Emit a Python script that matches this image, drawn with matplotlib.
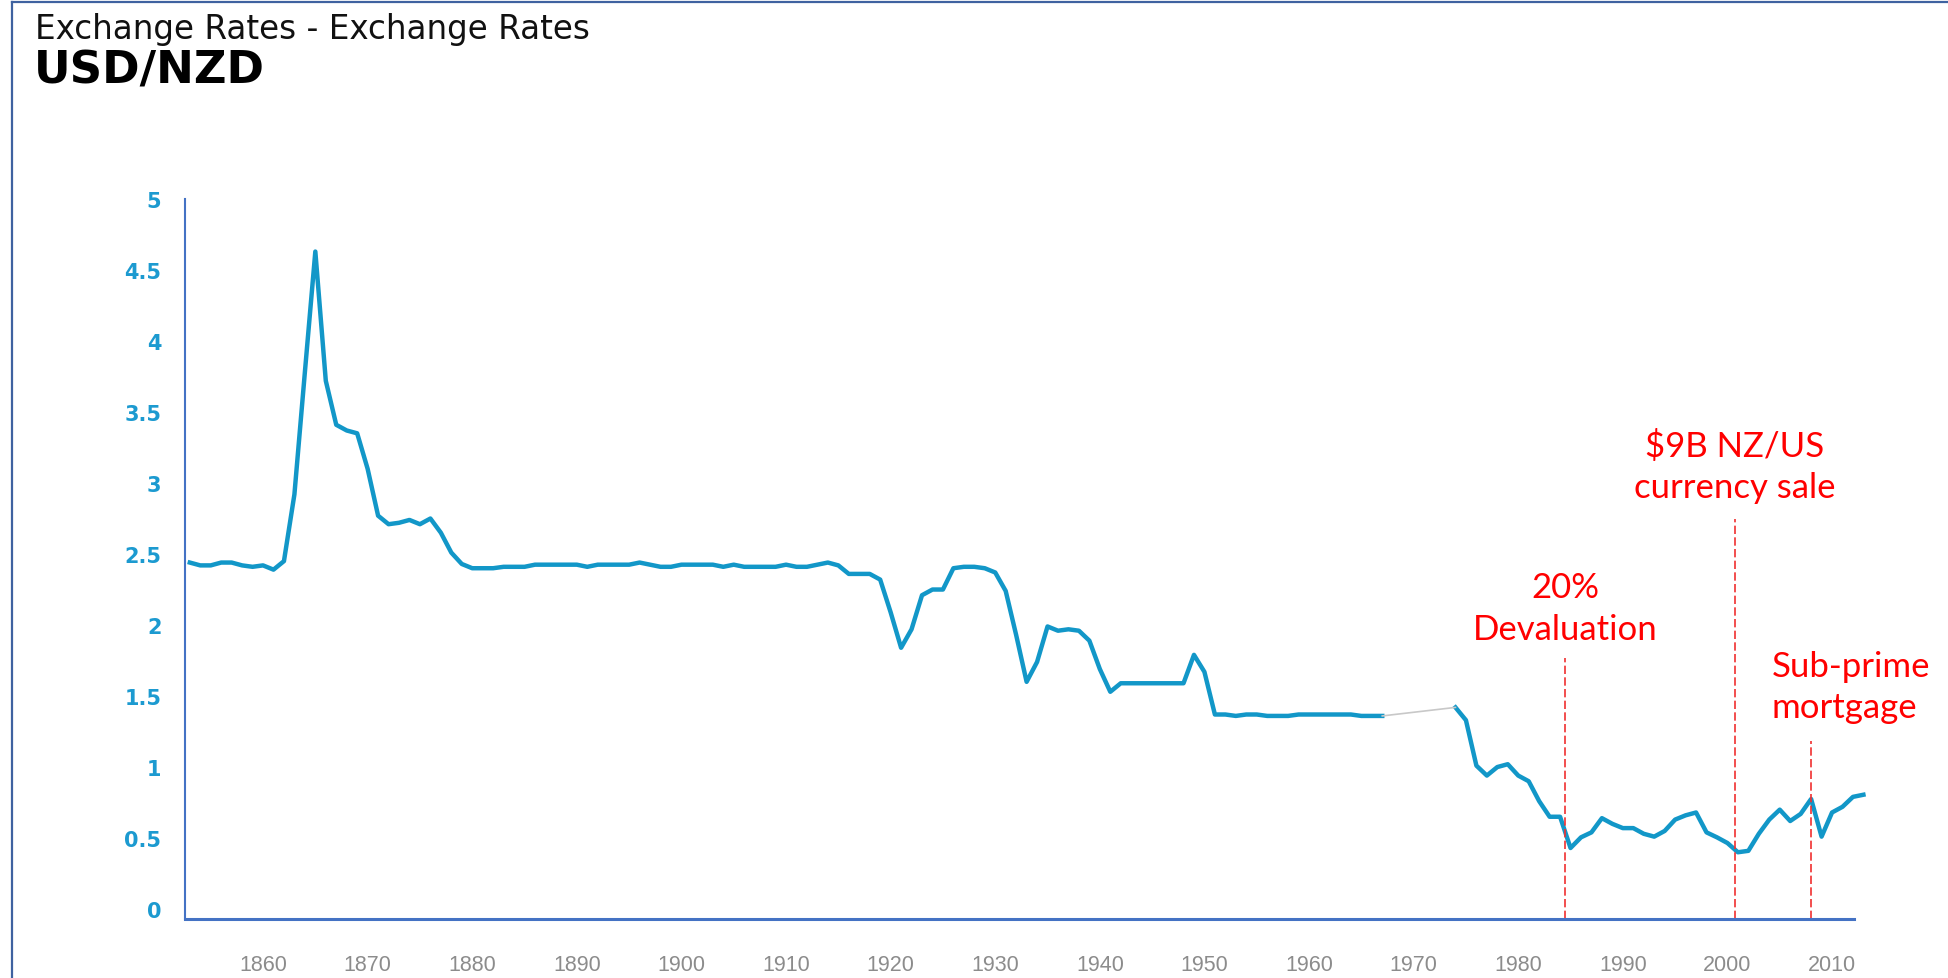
import matplotlib
matplotlib.use("Agg")
import matplotlib.pyplot as plt
from matplotlib.lines import Line2D

# annual USD/NZD (gap 1968-1973 bridged by a thin grey line)
years_early = list(range(1853, 1968))
rates_early = [
    2.44, 2.42, 2.42, 2.44, 2.44, 2.42, 2.41, 2.42, 2.39, 2.45,   # 1853-1862
    2.92, 3.78, 4.63, 3.72, 3.41, 3.37, 3.35, 3.10, 2.77, 2.71,   # 1863-1872
    2.72, 2.74, 2.71, 2.75, 2.65, 2.51, 2.43, 2.40, 2.40, 2.40,   # 1873-1882
    2.41, 2.41, 2.41, 2.425, 2.425, 2.425, 2.425, 2.425, 2.41, 2.425,  # 1883-1892
    2.425, 2.425, 2.425, 2.44, 2.425, 2.41, 2.41, 2.425, 2.425, 2.425,  # 1893-1902
    2.425, 2.41, 2.425, 2.41, 2.41, 2.41, 2.41, 2.425, 2.41, 2.41,  # 1903-1912
    2.425, 2.44, 2.42, 2.36, 2.36, 2.36, 2.32, 2.09, 1.84, 1.97,  # 1913-1922
    2.21, 2.25, 2.25, 2.40, 2.41, 2.41, 2.40, 2.37, 2.24, 1.93,   # 1923-1932
    1.60, 1.74, 1.99, 1.96, 1.97, 1.96, 1.89, 1.69, 1.53, 1.59,   # 1933-1942
    1.59, 1.59, 1.59, 1.59, 1.59, 1.59, 1.79, 1.67, 1.37, 1.37,   # 1943-1952
    1.36, 1.37, 1.37, 1.36, 1.36, 1.36, 1.37, 1.37, 1.37, 1.37,   # 1953-1962
    1.37, 1.37, 1.36, 1.36, 1.36,                                 # 1963-1967
]
years_late = list(range(1974, 2014))
rates_late = [
    1.42, 1.33, 1.01, 0.94, 1.00, 1.02, 0.94, 0.90, 0.76, 0.65,   # 1974-1983
    0.65, 0.43, 0.505, 0.54, 0.64, 0.60, 0.57, 0.57, 0.53, 0.51,  # 1984-1993
    0.55, 0.63, 0.66, 0.68, 0.54, 0.505, 0.465, 0.40, 0.41, 0.53,  # 1994-2003
    0.63, 0.70, 0.62, 0.67, 0.775, 0.51, 0.68, 0.72, 0.79, 0.805,  # 2004-2013
]

x_ticks = list(range(1860, 2011, 10))
y_ticks = [0, 0.5, 1, 1.5, 2, 2.5, 3, 3.5, 4, 4.5, 5]
y_tick_labels = ["0", "0.5", "1", "1.5", "2", "2.5", "3", "3.5", "4", "4.5", "5"]

event_labels = ["20%\nDevaluation", "\\$9B NZ/US\ncurrency sale", "Sub-prime\nmortgage"]
event_years = [1984.5, 2000.7, 2008.0]
event_tops = [1.77, 2.75, 1.18]

W, H = 1949, 979
fig = plt.figure(figsize=(W / 100, H / 100), dpi=100)

# thin frame at top and left of the picture
fig.add_artist(Line2D([12 / W, 1], [1 - 3 / H, 1 - 3 / H], color="#3F62A0", lw=1.6))
fig.add_artist(Line2D([12 / W, 12 / W], [0, 1 - 3 / H], color="#3F62A0", lw=1.6))

fig.text(35 / W, 1 - 30 / H, "Exchange Rates - Exchange Rates", fontsize=23.5,
         color="#111111", va="center", ha="left")
fig.text(34 / W, 1 - 71 / H, "USD/NZD", fontsize=32.5, fontweight="bold",
         color="black", va="center", ha="left")

ax = fig.add_axes([185 / W, 59 / H, (1854 - 185) / W, (920 - 200) / H])

ax.plot(years_early, rates_early, color="#1297C8", lw=3.2, solid_joinstyle="round")
ax.plot(years_late, rates_late, color="#1297C8", lw=3.2, solid_joinstyle="round",
        clip_on=False)
ax.plot([years_early[-1], years_late[0]], [rates_early[-1], rates_late[0]],
        color="#C8C8C8", lw=1.2)

for label, yr, top in zip(event_labels, event_years, event_tops):
    ax.plot([yr, yr], [-0.07, top], color="#F03030", lw=1.2,
            linestyle=(0, (5, 2)), clip_on=False)

ax.text(event_years[0], 2.12, event_labels[0], color="red", fontsize=25,
        family="Lato", ha="center", va="center", linespacing=1.35)
ax.text(event_years[1], 3.12, event_labels[1], color="red", fontsize=25,
        family="Lato", ha="center", va="center", linespacing=1.35)
ax.text(2004.2, 1.57, event_labels[2], color="red", fontsize=25,
        family="Lato", ha="left", va="center", linespacing=1.35)

ax.set_xlim(1852.54, 2012.1)
ax.set_ylim(-0.07, 5.0)
ax.set_xticks(x_ticks)
ax.set_xticklabels([str(t) for t in x_ticks], color="#8C8C8C", fontsize=15.5,
                   family="Liberation Sans")
ax.set_yticks(y_ticks)
ax.set_yticklabels(y_tick_labels, color="#1C9AD0", fontsize=15, fontweight="bold")
ax.tick_params(axis="x", length=0, pad=25)
ax.tick_params(axis="y", length=0, pad=17)

for side in ["top", "right"]:
    ax.spines[side].set_visible(False)
ax.spines["left"].set_color("#4472C4")
ax.spines["left"].set_linewidth(1.5)
ax.spines["bottom"].set_color("#4472C4")
ax.spines["bottom"].set_linewidth(2.2)

fig.savefig("out.png", dpi=100)
